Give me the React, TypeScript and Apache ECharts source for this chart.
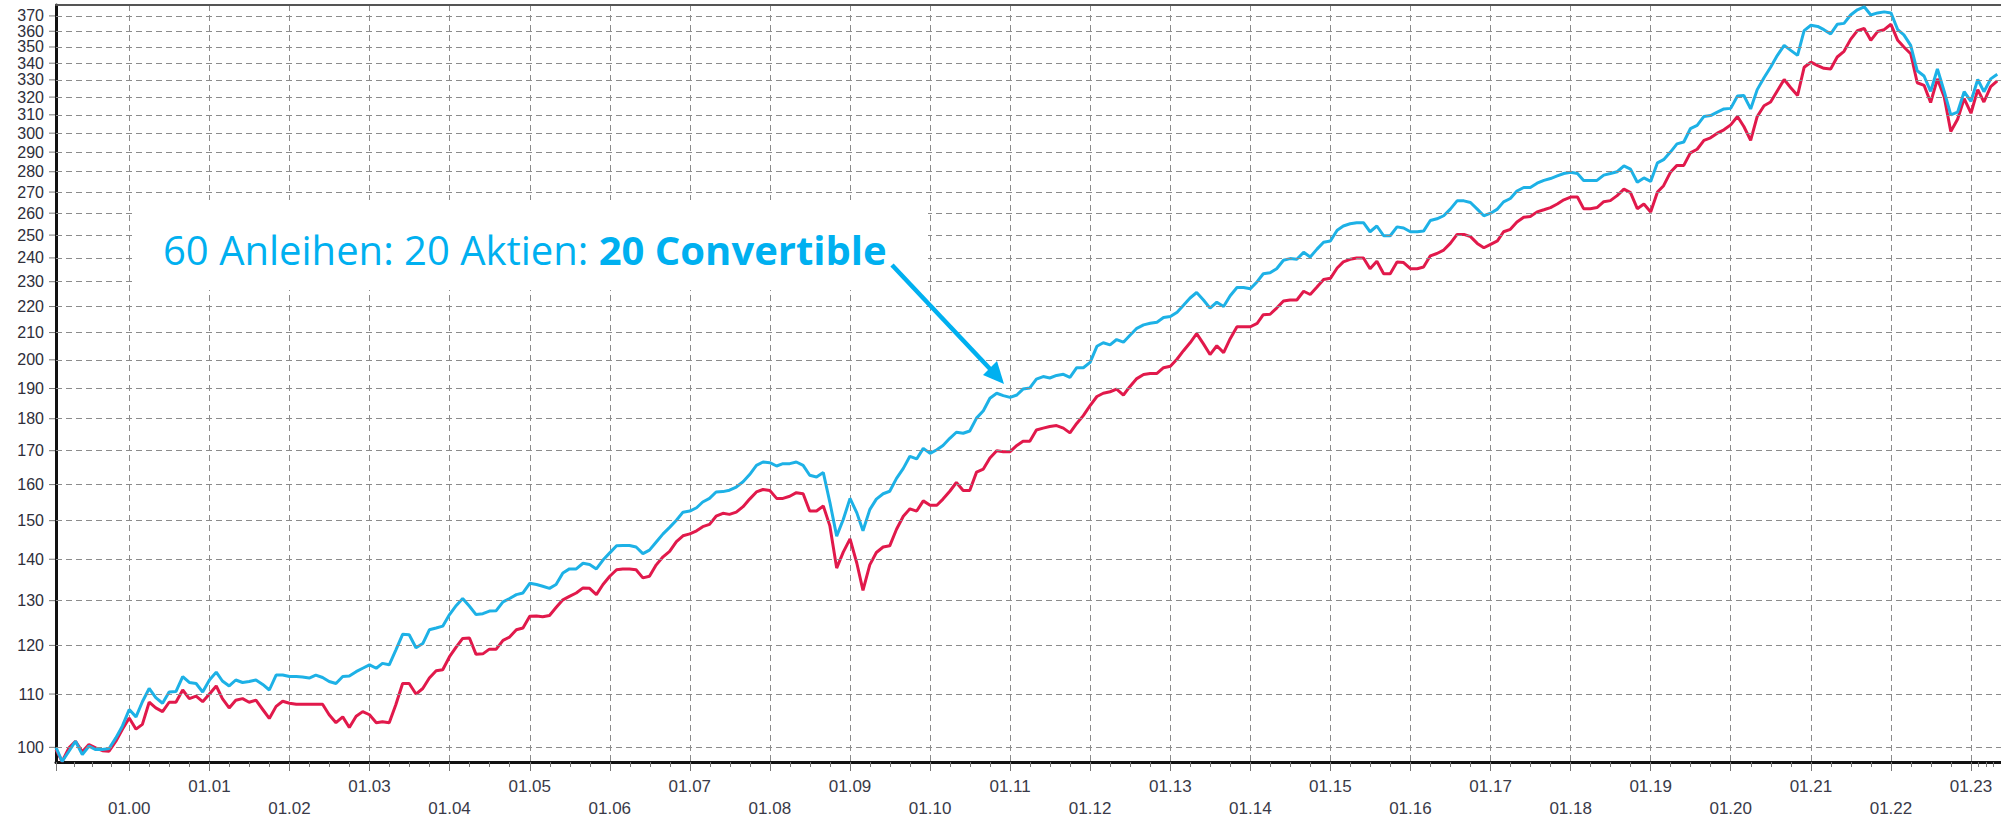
import React, { useEffect, useRef } from "react";
import * as echarts from "echarts";

// Monthly values, first point = Feb 1999
const START_YEAR = 1999;
const START_MONTH = 1; // 0-based (February)

const convertibleMix = [
  100.0, 97.5, 99.3, 101.1, 98.7, 100.2, 99.6, 99.6, 99.8, 101.7, 103.9,
  107.0, 105.6, 108.5, 111.1, 109.3, 108.2, 110.4, 110.5, 113.5, 112.3, 112.1, 110.4,
  112.8, 114.4, 112.6, 111.6, 112.8, 112.3, 112.5, 112.8, 111.9, 110.8, 113.8, 113.8,
  113.5, 113.5, 113.4, 113.2, 113.8, 113.3, 112.5, 112.1, 113.5, 113.6, 114.5, 115.2,
  115.9, 115.2, 116.2, 115.9, 119.0, 122.4, 122.3, 119.5, 120.4, 123.4, 123.8, 124.2,
  126.8, 128.9, 130.5, 128.7, 126.8, 127.0, 127.6, 127.7, 129.7, 130.5, 131.4, 131.8,
  134.1, 133.8, 133.4, 132.9, 133.8, 136.6, 137.6, 137.6, 139.0, 138.7, 137.6, 139.8,
  141.6, 143.4, 143.5, 143.5, 143.1, 141.4, 142.3, 144.4, 146.5, 148.2, 150.1, 152.3,
  152.6, 153.5, 155.1, 156.1, 157.9, 158.0, 158.4, 159.3, 160.8, 162.9, 165.6, 166.6,
  166.4, 165.4, 166.1, 166.1, 166.6, 165.6, 162.7, 162.2, 163.5, 155.0, 145.9, 150.3,
  156.1, 152.1, 147.3, 153.0, 155.9, 157.4, 158.1, 161.8, 164.7, 168.3, 167.5, 170.7,
  169.2, 170.3, 171.6, 173.8, 175.7, 175.4, 176.1, 180.2, 182.6, 186.7, 188.4, 187.6,
  187.0, 187.8, 189.8, 190.2, 193.2, 194.1, 193.6, 194.5, 194.9, 193.8, 197.2, 197.2,
  199.1, 204.9, 206.2, 205.4, 207.4, 206.4, 209.0, 211.6, 212.9, 213.5, 213.9, 215.7,
  216.1, 217.8, 220.4, 223.4, 225.6, 222.6, 219.4, 221.7, 220.0, 224.3, 227.6, 227.6,
  227.1, 230.0, 233.3, 233.7, 235.4, 239.0, 239.7, 239.4, 242.4, 240.4, 243.8, 246.8,
  247.4, 252.2, 254.1, 255.1, 255.6, 255.6, 251.5, 254.1, 249.7, 249.7, 253.7, 253.2,
  251.5, 251.5, 251.8, 256.6, 257.4, 258.8, 261.9, 265.8, 265.8, 265.0, 261.9, 258.8,
  260.0, 261.9, 265.3, 266.9, 270.5, 272.2, 272.2, 274.3, 275.7, 276.6, 277.9, 279.1,
  279.7, 279.1, 275.7, 275.7, 275.7, 278.3, 279.1, 280.0, 282.9, 281.3, 274.8, 276.9,
  275.2, 284.5, 286.1, 290.0, 294.3, 295.3, 302.4, 304.2, 309.1, 309.6, 311.5, 313.3,
  313.6, 320.6, 320.9, 313.3, 324.3, 331.3, 337.5, 344.8, 351.0, 347.9, 344.8, 360.4,
  363.9, 363.1, 361.0, 358.3, 364.5, 365.1, 370.6, 374.1, 376.1, 370.6, 372.0, 372.7,
  372.0, 361.0, 357.7, 351.0, 335.4, 332.3, 323.3, 336.5, 323.3, 310.0, 311.5, 323.1,
  317.6, 330.2, 323.1, 330.6, 333.3,
];

const comparisonMix = [
  99.6, 97.5, 99.9, 101.1, 99.2, 100.5, 99.9, 99.4, 99.3, 101.1, 103.3,
  105.4, 103.3, 104.2, 108.4, 107.3, 106.6, 108.4, 108.4, 110.8, 109.1, 109.6, 108.5,
  110.0, 111.6, 109.1, 107.3, 108.8, 109.1, 108.4, 108.8, 107.0, 105.3, 107.6, 108.6,
  108.2, 108.0, 108.0, 108.0, 108.0, 108.0, 106.0, 104.5, 105.6, 103.6, 105.7, 106.6,
  106.0, 104.5, 104.7, 104.5, 107.9, 112.1, 112.1, 110.0, 111.1, 113.2, 114.7, 114.9,
  117.6, 119.7, 121.5, 121.6, 118.1, 118.2, 119.2, 119.2, 121.1, 121.8, 123.4, 123.8,
  126.4, 126.5, 126.3, 126.6, 128.4, 130.2, 131.0, 131.8, 133.0, 132.9, 131.4, 133.8,
  135.8, 137.4, 137.6, 137.6, 137.4, 135.4, 135.8, 138.6, 140.6, 142.0, 144.5, 146.0,
  146.5, 147.3, 148.4, 149.0, 151.2, 152.0, 151.7, 152.3, 153.8, 155.9, 157.9, 158.6,
  158.3, 156.1, 156.1, 156.7, 157.7, 157.4, 152.6, 152.6, 154.0, 148.6, 137.8, 141.8,
  145.2, 139.0, 132.4, 138.6, 141.7, 143.1, 143.4, 147.7, 151.2, 153.2, 152.6, 155.4,
  154.2, 154.2, 155.9, 158.1, 160.6, 158.3, 158.3, 163.6, 164.5, 167.8, 170.0, 169.7,
  169.7, 171.6, 172.9, 172.9, 176.4, 177.0, 177.5, 177.8, 177.0, 175.5, 178.5, 181.0,
  184.3, 187.3, 188.4, 188.9, 189.8, 187.8, 190.7, 193.4, 194.8, 195.2, 195.2, 197.2,
  197.7, 200.3, 203.2, 206.2, 209.6, 205.8, 201.9, 205.1, 202.6, 207.7, 212.2, 212.2,
  212.2, 213.5, 216.8, 217.0, 219.4, 222.2, 222.6, 222.6, 226.1, 224.8, 227.8, 230.9,
  231.4, 235.7, 238.3, 239.4, 240.0, 240.0, 235.4, 238.6, 233.3, 233.3, 238.3, 238.0,
  235.4, 235.4, 236.1, 240.9, 241.9, 243.4, 246.3, 250.3, 250.3, 249.3, 246.3, 244.4,
  245.9, 247.4, 251.5, 252.6, 255.9, 258.1, 258.5, 260.6, 261.6, 262.6, 264.3, 266.3,
  267.6, 267.6, 262.1, 262.1, 262.6, 265.4, 265.9, 268.3, 271.4, 269.7, 262.1, 264.3,
  260.5, 270.0, 273.1, 279.7, 283.2, 283.2, 289.6, 291.5, 296.2, 297.5, 300.0, 301.8,
  304.5, 309.1, 303.6, 296.2, 309.1, 315.1, 317.2, 323.7, 330.2, 325.4, 320.9, 337.5,
  340.6, 338.5, 336.9, 336.5, 343.8, 347.3, 354.8, 360.4, 361.8, 354.2, 359.8, 361.0,
  364.5, 354.2, 350.0, 345.8, 328.3, 326.8, 316.9, 330.6, 320.0, 300.9, 307.6, 319.1,
  310.9, 324.3, 317.2, 326.1, 329.4,
];

const yTicks = [
  100, 110, 120, 130, 140, 150, 160, 170, 180, 190, 200, 210, 220, 230, 240,
  250, 260, 270, 280, 290, 300, 310, 320, 330, 340, 350, 360, 370,
];

const annotationRegular = "60 Anleihen: 20 Aktien: ";
const annotationBold = "20 Convertible";

const BLUE = "#1db1e6";
const RED = "#e1194b";
const NOTE = "#00b0f0";

function toPairs(values: number[]) {
  return values.map((v, i) => [new Date(START_YEAR, START_MONTH + i, 1).getTime(), v]);
}

export default function App() {
  const ref = useRef<HTMLDivElement>(null);

  useEffect(() => {
    if (!ref.current) return;
    const chart = echarts.init(ref.current, null, { renderer: "svg" });

    const xMin = new Date(1999, 1, 1).getTime();
    const xMax = new Date(2023, 4, 18).getTime();

    const option: any = {
      animation: false,
      backgroundColor: "#ffffff",
      grid: { left: 56, right: 0, top: 5, bottom: 55 },
      xAxis: [
        {
          type: "time",
          min: xMin,
          max: xMax,
          minInterval: 365 * 24 * 3600 * 1000,
          maxInterval: 366 * 24 * 3600 * 1000,
          axisLine: { show: true, lineStyle: { color: "#111", width: 3 } },
          axisTick: { show: true, length: 9, lineStyle: { color: "#777", width: 1 } },
          minorTick: { show: true, splitNumber: 4, length: 5, lineStyle: { color: "#777", width: 1 } },
          splitLine: { show: true, lineStyle: { color: "#8c8c8c", width: 1, type: [6, 4] } },
          axisLabel: {
            show: true,
            margin: 13,
            fontFamily: "Liberation Sans",
            fontSize: 17,
            lineHeight: 22,
            color: "#3a3a48",
            formatter: (val: number) => {
              const d = new Date(val);
              const y = d.getFullYear();
              const txt = "01." + String(y % 100).padStart(2, "0");
              return y % 2 === 0 ? "\n" + txt : txt;
            },
          },
        },
        {
          type: "value",
          position: "top",
          show: true,
          axisLine: { show: true, lineStyle: { color: "#555", width: 2 } },
          axisTick: { show: false },
          axisLabel: { show: false },
          splitLine: { show: false },
        },
      ],
      yAxis: {
        type: "log",
        logBase: 10,
        min: 97.41,
        max: 377.3,
        axisLine: { show: true, lineStyle: { color: "#111", width: 3 } },
        axisTick: { show: false },
        axisLabel: { show: false },
        splitLine: { show: false },
        minorSplitLine: { show: false },
      },
      series: [
        {
          type: "line",
          name: "grid",
          data: [],
          silent: true,
          z: 1,
          markLine: {
            silent: true,
            symbol: "none",
            lineStyle: { color: "#8c8c8c", width: 1, type: [6, 4] },
            label: {
              show: true,
              position: "start",
              distance: 1,
              formatter: (p: any) => "{v|" + p.data.tick + "}{t|}",
              rich: {
                v: {
                  fontFamily: "Liberation Sans",
                  fontSize: 16,
                  color: "#2e2e3a",
                  padding: [0, 5, 0, 0],
                  verticalAlign: "middle",
                },
                t: {
                  width: 6,
                  height: 1,
                  backgroundColor: "#777",
                  verticalAlign: "middle",
                },
              },
            },
            emphasis: { disabled: true },
            data: yTicks.map((v) => ({ yAxis: v, tick: v })),
          },
        },
        {
          type: "line",
          name: "Vergleich",
          data: toPairs(comparisonMix),
          showSymbol: false,
          symbol: "none",
          z: 3,
          lineStyle: { color: RED, width: 3 },
          itemStyle: { color: RED },
        },
        {
          type: "line",
          name: "60 Anleihen: 20 Aktien: 20 Convertible",
          data: toPairs(convertibleMix),
          showSymbol: false,
          symbol: "none",
          z: 4,
          lineStyle: { color: BLUE, width: 3 },
          itemStyle: { color: BLUE },
        },
      ],
      graphic: [
        {
          type: "rect",
          z: 50,
          shape: { x: 133, y: 200, width: 795, height: 90 },
          style: { fill: "#ffffff" },
        },
        {
          type: "text",
          z: 51,
          x: 163,
          y: 249,
          style: {
            text: "{r|" + annotationRegular + "}{b|" + annotationBold + "}",
            verticalAlign: "middle",
            align: "left",
            rich: {
              r: { fontFamily: "Open Sans", fontSize: 40, fill: NOTE },
              b: { fontFamily: "Open Sans", fontSize: 40, fontWeight: "bold", fill: NOTE },
            },
          },
        },
        {
          type: "line",
          z: 51,
          shape: { x1: 892, y1: 265, x2: 992, y2: 371 },
          style: { stroke: NOTE, lineWidth: 4.5 },
        },
        {
          type: "polygon",
          z: 51,
          shape: { points: [[1004, 384], [983, 375], [997, 361]] },
          style: { fill: NOTE },
        },
      ],
    };

    chart.setOption(option);
    return () => chart.dispose();
  }, []);

  return (
    <div
      ref={ref}
      style={{ position: "absolute", left: 0, top: 0, width: 2001, height: 819 }}
    />
  );
}
